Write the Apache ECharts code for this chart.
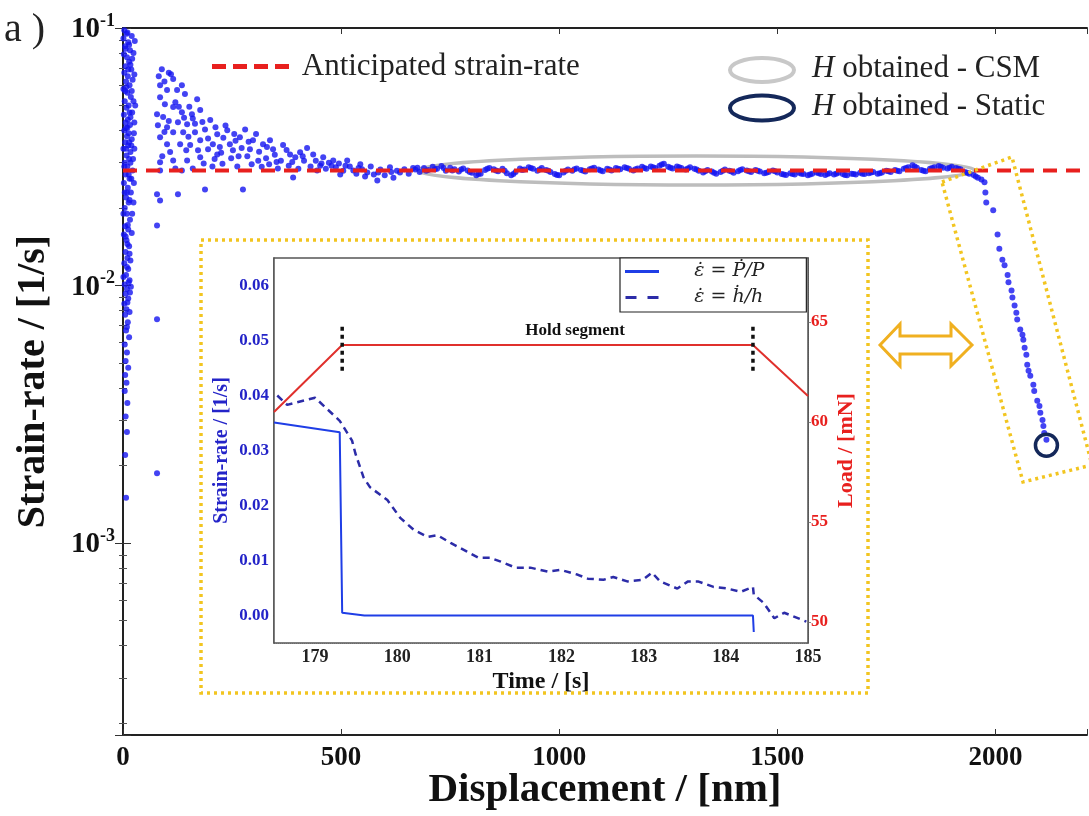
<!DOCTYPE html>
<html>
<head>
<meta charset="utf-8">
<script src="https://cdn.jsdelivr.net/npm/echarts@6/dist/echarts.min.js"></script>
<style>
  html, body { margin: 0; background: #fff; }
  #chart { width: 1089px; height: 816px; }
</style>
</head>
<body>
<div id="chart"></div>
<script>
// ---- main plot: strain-rate vs displacement (log y) ----
// [displacement nm, strain-rate 1/s]
const surfacePts = [
  [3,0.098],[8,0.095],[1,0.091],[12,0.088],[5,0.085],[16,0.082],[2,0.079],[9,0.077],[14,0.074],[6,0.071],
  [19,0.069],[3,0.067],[11,0.065],[7,0.062],[15,0.06],[1,0.058],[10,0.056],[18,0.054],[4,0.052],[13,0.05],
  [8,0.049],[21,0.047],[2,0.046],[11,0.044],[6,0.043],[16,0.042],[3,0.04],[13,0.039],[9,0.038],[20,0.037],
  [5,0.036],[12,0.035],[1,0.034],[17,0.033],[8,0.032],[14,0.031],[4,0.03],[10,0.029],[22,0.028],[6,0.027],
  [15,0.026],[2,0.025],[11,0.024],[18,0.023],[7,0.022],[13,0.021],[4,0.02],[9,0.019],[16,0.018],[5,0.017],
  [12,0.0165],[2,0.0158],[8,0.015],[14,0.0142],[6,0.0135],[10,0.0128],[3,0.0122],[12,0.0116],[7,0.011],[15,0.0105],
  [4,0.0101],[9,0.0097],[6,0.0093],[12,0.0089],[3,0.0085],[8,0.0081],[5,0.0077],[11,0.0072],[7,0.0067],[14,0.0063],
  [4,0.0059],[9,0.0055],[6,0.0051],[12,0.0048],[5,0.0045],[8,0.0042],[4,0.0039],[10,0.0035],[6,0.0031],[9,0.0027],
  [5,0.0022],[7,0.0015],
  [20,0.093],[14,0.086],[24,0.08],[17,0.072],[22,0.063],[5,0.057],[24,0.052],[15,0.047],[26,0.043],[7,0.041],
  [19,0.035],[23,0.031],[3,0.029],[19,0.026],[9,0.023],[24,0.021],[1,0.019],[20,0.016],[10,0.0145],[17,0.0125],
  [1,0.0108],[18,0.0099],
  [10,0.096],[27,0.089],[6,0.083],[21,0.076],[12,0.069],[26,0.066],[8,0.059],[20,0.057],[28,0.05],[17,0.045],
  [10,0.041],[25,0.039],[14,0.036],[7,0.034],[26,0.034],[17,0.03],[13,0.027],[25,0.025],[4,0.023],[15,0.0215],
  [21,0.019],[11,0.0172],[6,0.0155],[15,0.0133],[9,0.0118],[13,0.0103],[16,0.0094],[10,0.0086],[15,0.0079],[9,0.0069]
];
const transientPts = [
  [89,0.0692],[110,0.0662],[115,0.0634],[135,0.060],[85,0.060],[101,0.0574],[124,0.0574],[142,0.0554],[170,0.0529],[85,0.0539],
  [96,0.0506],[115,0.0493],[78,0.0463],[92,0.0451],[135,0.0471],[158,0.0463],[177,0.048],[200,0.0439],[80,0.0419],[101,0.0412],
  [126,0.0431],[147,0.0423],[115,0.0394],[138,0.0394],[165,0.0394],[188,0.0404],[216,0.0387],[239,0.0401],[280,0.0404],[268,0.0377],
  [85,0.0377],[101,0.0354],[131,0.0354],[154,0.0351],[177,0.0367],[206,0.0354],[245,0.0354],[298,0.0367],[321,0.0354],[337,0.0367],
  [367,0.0351],[252,0.0335],[291,0.0338],[344,0.0338],[383,0.0323],[406,0.0329],[436,0.0323],[459,0.0315],[482,0.0306],[514,0.0306],
  [544,0.0296],[85,0.0301],[115,0.0306],[147,0.0306],[177,0.0315],[216,0.0323],[85,0.028],[135,0.028],[188,0.0236],[275,0.0236],
  [78,0.0226],[85,0.0214],[126,0.0226],[78,0.0171],[390,0.0263],[445,0.028],[498,0.027],[583,0.0256],[560,0.0275],[528,0.028],
  [635,0.0275],[78,0.0074],[78,0.00187],
  [160,0.0445],[172,0.0335],[185,0.0298],[195,0.0372],[210,0.031],[222,0.0345],[228,0.0297],[235,0.0418],[248,0.0312],[258,0.0365],
  [262,0.029],[272,0.0342],[285,0.0318],[295,0.0296],[305,0.0388],[312,0.0331],[318,0.0289],[328,0.0312],[335,0.0296],[348,0.0322],
  [355,0.0285],[362,0.0305],[375,0.0336],[380,0.0292],[395,0.0315],[402,0.0284],[415,0.0305],[422,0.0342],[430,0.029],[442,0.0305],
  [452,0.0292],[465,0.0284],[472,0.03],[488,0.0288],[495,0.0298],[505,0.0279],[520,0.029],[535,0.0272],[548,0.0283],[555,0.0265],
  [568,0.029],[575,0.027],[590,0.0282],[600,0.0268],[612,0.0288],[620,0.0262],[628,0.0279],[645,0.0283],[655,0.0272],[665,0.0286],
  [120,0.0515],[140,0.0448],[150,0.0378],[105,0.0435],[95,0.0395],[108,0.033],[90,0.0318],[120,0.0285],[145,0.0335],[160,0.0285],
  [195,0.0338],[230,0.0375],[205,0.029],[82,0.065],[95,0.062],[105,0.067],
  [128,0.0495],[152,0.0495],[165,0.0425],[182,0.0432],[212,0.0412],[225,0.0328],[255,0.0388],[265,0.0318],[288,0.0362],[310,0.0305],
  [330,0.0345],[352,0.0302],[388,0.0302],[412,0.0318],[455,0.0298],[478,0.0292],[510,0.0292],[540,0.0286],[585,0.0275],[615,0.0276]
];
const plateauPts = [
  [670,0.0282],[680,0.0276],[690,0.0286],[700,0.0281],[710,0.0289],[720,0.0284],[730,0.0291],[740,0.0279],[750,0.0287],[760,0.0283],
  [770,0.0277],[780,0.0285],[790,0.0280],[800,0.0274],[810,0.0268],[820,0.0272],[830,0.0281],[840,0.0286],[850,0.0283],[860,0.0278],
  [870,0.0284],[880,0.0273],[890,0.0268],[900,0.0276],[910,0.0285],[920,0.0282],[930,0.0288],[940,0.0284],[950,0.0279],[960,0.0286],
  [970,0.0281],[980,0.0276],[990,0.0271],[1000,0.0268],[1010,0.0275],[1020,0.0282],[1030,0.0279],[1040,0.0285],[1050,0.0281],[1060,0.0277],
  [1070,0.0283],[1080,0.0287],[1090,0.0282],[1100,0.0278],[1110,0.0284],[1120,0.0280],[1130,0.0286],[1140,0.0283],[1150,0.0288],[1160,0.0284],
  [1170,0.0280],[1180,0.0285],[1190,0.0289],[1200,0.0284],[1210,0.0290],[1220,0.0286],[1230,0.0292],[1240,0.0297],[1250,0.0289],[1260,0.0285],
  [1270,0.0290],[1280,0.0286],[1290,0.0282],[1300,0.0288],[1310,0.0284],[1320,0.0279],[1330,0.0275],[1340,0.0281],[1350,0.0277],[1360,0.0272],
  [1370,0.0276],[1380,0.0282],[1390,0.0279],[1400,0.0274],[1410,0.0278],[1420,0.0283],[1430,0.0280],[1440,0.0276],[1450,0.0281],[1460,0.0277],
  [1470,0.0273],[1480,0.0276],[1490,0.0280],[1500,0.0275],[1510,0.0271],[1520,0.0269],[1530,0.0273],[1540,0.0270],[1550,0.0274],[1560,0.0271],
  [1570,0.0268],[1580,0.0272],[1590,0.0275],[1600,0.0271],[1610,0.0269],[1620,0.0273],[1630,0.0270],[1640,0.0274],[1650,0.0271],[1660,0.0268],
  [1670,0.0272],[1680,0.0270],[1690,0.0274],[1700,0.0271],[1710,0.0273],[1720,0.0276],[1730,0.0272],[1740,0.0275],[1750,0.0279],[1760,0.0276],
  [1770,0.0281],[1780,0.0278],[1790,0.0284],[1800,0.0288],[1810,0.0293],[1820,0.0287],[1830,0.0281],[1840,0.0278],[1850,0.0284],[1860,0.0288],
  [1870,0.0291],[1880,0.0287],[1890,0.0285],[1900,0.0289],[1910,0.0286],[1920,0.0283],[1930,0.0276],[1940,0.0272],[1950,0.0269],[1960,0.0262],
  [675,0.0287],[695,0.0279],[715,0.0283],[735,0.0286],[755,0.0280],[775,0.0282],[795,0.0276],[815,0.0271],[835,0.0284],[855,0.0280],
  [875,0.0279],[895,0.0271],[915,0.0281],[935,0.0286],[955,0.0282],[975,0.0279],[995,0.0269],[1015,0.0279],[1035,0.0283],[1055,0.0279],
  [1075,0.0285],[1095,0.0280],[1115,0.0282],[1135,0.0284],[1155,0.0286],[1175,0.0283],[1195,0.0286],[1215,0.0288],[1235,0.0295],[1255,0.0287],
  [1275,0.0288],[1295,0.0285],[1315,0.0282],[1335,0.0278],[1355,0.0274],[1375,0.0279],[1395,0.0277],[1415,0.0281],[1435,0.0278],[1455,0.0279],
  [1475,0.0274],[1495,0.0278],[1515,0.0270],[1535,0.0271],[1555,0.0272],[1575,0.0270],[1595,0.0273],[1615,0.0271],[1635,0.0272],[1655,0.0269],
  [1675,0.0271],[1695,0.0272],[1715,0.0275],[1735,0.0273],[1755,0.0278],[1775,0.0279],[1795,0.0286],[1815,0.0290],[1835,0.0279],[1855,0.0286],
  [1875,0.0289],[1895,0.0287],[1915,0.0284],[1935,0.0274],[1955,0.0265]
];
const unloadPts = [
  [1968,0.0258],[1975,0.0252],[1977,0.0230],[1979,0.0210],[1995,0.0196],[2005,0.0158],[2009,0.0139],[2016,0.0126],[2021,0.0120],[2028,0.0110],
  [2030,0.0103],[2037,0.00957],[2039,0.00898],[2044,0.00836],[2048,0.00785],[2050,0.00738],[2057,0.00675],[2062,0.00645],[2064,0.00616],[2067,0.00574],
  [2071,0.00539],[2073,0.00493],[2076,0.00467],[2080,0.00447],[2087,0.00412],[2089,0.00390],[2096,0.00357],[2101,0.00341],[2103,0.00321],[2108,0.00301],
  [2110,0.00285],[2112,0.00268],[2117,0.00252]
];
const anticipatedRate = 0.028;
const anticipatedDisp = [0, 2210];
const csmRange = [676, 1954];          // grey ellipse span (nm)
const staticPoint = [2117, 0.0024];    // navy circle
const dispTicks = [0, 500, 1000, 1500, 2000];

// ---- inset: strain-rate / load vs time during hold ----
const loadTime = [178.5, 179.33, 184.33, 185];
const loadMN = [60.5, 63.85, 63.85, 61.3];
const pTime = [178.5, 179.3, 179.33, 179.6, 184.33, 184.34];
const pRate = [0.0351, 0.0333, 0.0005, 0.0, 0.0, -0.003];
const hTime = [178.54, 178.66, 179.0, 179.3, 179.45, 179.49, 179.59, 179.67, 179.88, 180.04, 180.2, 180.37, 180.49, 180.65,
  180.85, 180.99, 181.13, 181.26, 181.44, 181.62, 181.83, 181.99, 182.2, 182.32, 182.51, 182.63, 182.8, 182.99, 183.1,
  183.2, 183.41, 183.54, 183.66, 183.85, 184.02, 184.18, 184.33, 184.34, 184.46, 184.59, 184.71, 184.98];
const hRate = [0.040, 0.0383, 0.0396, 0.0354, 0.0318, 0.0295, 0.0251, 0.0233, 0.0210, 0.0177, 0.0156, 0.0143, 0.0146, 0.0132,
  0.0116, 0.0105, 0.0105, 0.0098, 0.0087, 0.0087, 0.0080, 0.0083, 0.0074, 0.0067, 0.0065, 0.0070, 0.0062, 0.0065, 0.0078,
  0.0062, 0.0049, 0.0062, 0.0062, 0.0052, 0.0049, 0.0043, 0.0052, 0.0038, 0.0023, -0.0005, 0.0005, -0.0011];
const holdMarks = [179.33, 184.33];
const holdMarkSpan = [0.0445, 0.0532];

const SERIF = "'Liberation Serif', 'DejaVu Serif', serif";
const BLUE = '#1414f0';
const RED = '#e8201e';
const GOLD = '#f2c520';
const P_NAME = 'ε̇ = Ṗ/P';
const H_NAME = 'ε̇ = ḣ/h';

const chart = echarts.init(document.getElementById('chart'));

const mainGrid = { left: 123, top: 28, width: 964, height: 707 };
const insetGrid = { left: 274, top: 258, width: 534, height: 385 };

const zip = (xs, ys) => xs.map((x, i) => [x, ys[i]]);

function logLabel(v) {
  const e = Math.log10(v);
  const r = Math.round(e);
  if (Math.abs(e - r) > 1e-6) return '';
  return '{b|10}{s|' + r + '}';
}

const option = {
  animation: false,
  backgroundColor: '#fff',
  grid: [
    { ...mainGrid, show: false, outerBoundsMode: 'none', containLabel: false },
    { ...insetGrid, show: true, backgroundColor: '#fff', borderColor: '#555', borderWidth: 1.5, z: 3,
      outerBoundsMode: 'none', containLabel: false }
  ],
  legend: [
    {
      data: [{ name: 'Anticipated strain-rate', icon: 'path://M0,0h14v5h-14z M21,0h14v5h-14z M42,0h14v5h-14z M63,0h14v5h-14z' }],
      left: 207, top: 46,
      itemWidth: 77, itemHeight: 5,
      formatter: n => ' ' + n,
      textStyle: { fontFamily: SERIF, fontSize: 31, color: '#222' }
    },
    {
      data: [
        { name: P_NAME, icon: 'path://M0,0h34v3h-34z' },
        { name: H_NAME, icon: 'path://M0,0h11v3h-11z M22,0h11v3h-11z' }
      ],
      orient: 'vertical',
      left: 620, top: 258,
      itemWidth: 34, itemHeight: 3, itemGap: 7,
      padding: [4, 42, 5, 5],
      borderColor: '#222', borderWidth: 1.2,
      backgroundColor: '#fff',
      formatter: n => '     ' + n,
      textStyle: { fontFamily: "'DejaVu Serif', serif", fontStyle: 'italic', fontSize: 19, color: '#222' },
      z: 10
    }
  ],
  xAxis: [
    {
      gridIndex: 0, type: 'value', position: 'bottom', min: 0, max: anticipatedDisp[1], interval: 500,
      name: 'Displacement / [nm]', nameLocation: 'middle', nameGap: 35, nameMoveOverlap: false,
      nameTextStyle: { fontFamily: SERIF, fontWeight: 'bold', fontSize: 41, color: '#111' },
      axisLine: { lineStyle: { color: '#222', width: 2 } },
      axisTick: { inside: true, length: 6, lineStyle: { color: '#333' } },
      axisLabel: {
        margin: 10, fontFamily: SERIF, fontWeight: 'bold', fontSize: 27, color: '#111',
        formatter: v => (dispTicks.includes(v) ? String(v) : '')
      },
      splitLine: { show: false }
    },
    {
      gridIndex: 0, type: 'value', position: 'top', min: 0, max: anticipatedDisp[1], interval: 500,
      axisLine: { lineStyle: { color: '#222', width: 2 } },
      axisTick: { inside: true, length: 6, lineStyle: { color: '#333' } },
      axisLabel: { show: false }, splitLine: { show: false }
    },
    {
      gridIndex: 1, type: 'value', position: 'bottom', min: 178.5, max: 185, splitNumber: 6,
      name: 'Time / [s]', nameLocation: 'middle', nameGap: 27,
      nameTextStyle: { fontFamily: SERIF, fontWeight: 'bold', fontSize: 24, color: '#111' },
      axisLine: { lineStyle: { color: '#444', width: 1.5 } },
      axisTick: { show: false },
      axisLabel: { showMinLabel: false, margin: 5, fontFamily: SERIF, fontWeight: 'bold', fontSize: 18, color: '#222' },
      splitLine: { show: true, lineStyle: { color: '#aaa', type: 'dotted', width: 1 } }
    }
  ],
  yAxis: [
    {
      gridIndex: 0, type: 'log', logBase: 10, position: 'left', min: 1.8e-4, max: 0.1,
      name: 'Strain-rate / [1/s]', nameLocation: 'middle', nameGap: 69, nameRotate: 90,
      nameTextStyle: { fontFamily: SERIF, fontWeight: 'bold', fontSize: 40, color: '#111' },
      axisLine: { show: true, lineStyle: { color: '#222', width: 2 } },
      axisTick: { inside: true, length: 8, lineStyle: { color: '#333' } },
      minorTick: { show: true, splitNumber: 9, length: 4, lineStyle: { color: '#555' } },
      axisLabel: {
        margin: 8, formatter: logLabel,
        rich: {
          b: { fontFamily: SERIF, fontWeight: 'bold', fontSize: 29, color: '#111', lineHeight: 32, verticalAlign: 'bottom' },
          s: { fontFamily: SERIF, fontWeight: 'bold', fontSize: 18, color: '#111', lineHeight: 18, verticalAlign: 'top' }
        }
      },
      splitLine: { show: false }
    },
    {
      gridIndex: 0, type: 'log', logBase: 10, position: 'right', min: 1.8e-4, max: 0.1,
      axisLine: { show: true, lineStyle: { color: '#222', width: 2 } },
      axisTick: { inside: true, length: 8, lineStyle: { color: '#333' } },
      minorTick: { show: true, splitNumber: 9, length: 4, lineStyle: { color: '#555' } },
      axisLabel: { show: false }, splitLine: { show: false }
    },
    {
      gridIndex: 1, type: 'value', position: 'left', min: -0.005, max: 0.065, splitNumber: 7,
      name: 'Strain-rate / [1/s]', nameLocation: 'middle', nameGap: 42, nameRotate: 90,
      nameTextStyle: { fontFamily: SERIF, fontWeight: 'bold', fontSize: 20, color: '#2424c8' },
      axisLine: { show: true, lineStyle: { color: '#444', width: 1.5 } },
      axisTick: { show: false },
      axisLabel: {
        showMinLabel: false, showMaxLabel: false, margin: 5,
        fontFamily: SERIF, fontWeight: 'bold', fontSize: 17, color: '#2424c8',
        formatter: v => v.toFixed(2)
      },
      splitLine: { show: true, lineStyle: { color: '#aaa', type: 'dotted', width: 1 } }
    },
    {
      gridIndex: 1, type: 'value', position: 'right', min: 48.95, max: 68.2, splitNumber: 4,
      name: 'Load / [mN]', nameLocation: 'middle', nameGap: 27, nameRotate: 90,
      nameTextStyle: { fontFamily: SERIF, fontWeight: 'bold', fontSize: 22, color: RED },
      axisLine: { show: true, lineStyle: { color: '#444', width: 1.5 } },
      axisTick: { show: true, length: 3, lineStyle: { color: '#888' } },
      axisLabel: {
        showMinLabel: false, showMaxLabel: false, margin: 3,
        fontFamily: SERIF, fontWeight: 'bold', fontSize: 17, color: RED
      },
      splitLine: { show: false }
    }
  ],
  series: [
    {
      name: 'Strain-rate', type: 'scatter', xAxisIndex: 0, yAxisIndex: 0,
      data: surfacePts.concat(transientPts, plateauPts, unloadPts),
      symbolSize: 6, itemStyle: { color: BLUE }, z: 2
    },
    {
      name: 'Anticipated strain-rate', type: 'line', xAxisIndex: 0, yAxisIndex: 0,
      data: anticipatedDisp.map(x => [x, anticipatedRate]),
      symbol: 'none', lineStyle: { color: RED, width: 4, type: [14, 9] }, itemStyle: { color: RED }, z: 3
    },
    {
      name: 'Load', type: 'line', xAxisIndex: 2, yAxisIndex: 3,
      data: zip(loadTime, loadMN), symbol: 'none',
      lineStyle: { color: '#e0302c', width: 2 }, z: 5
    },
    {
      name: P_NAME, type: 'line', xAxisIndex: 2, yAxisIndex: 2,
      data: zip(pTime, pRate), symbol: 'none',
      lineStyle: { color: '#1f3ee6', width: 2 }, itemStyle: { color: '#1f3ee6' }, z: 5
    },
    {
      name: H_NAME, type: 'line', xAxisIndex: 2, yAxisIndex: 2,
      data: zip(hTime, hRate), symbol: 'none',
      lineStyle: { color: '#2c2ca8', width: 2.5, type: [7, 5] }, itemStyle: { color: '#2c2ca8' }, z: 5
    },
    ...holdMarks.map(t => ({
      name: 'hold', type: 'line', xAxisIndex: 2, yAxisIndex: 2,
      data: holdMarkSpan.map(v => [t, v]), symbol: 'none',
      lineStyle: { color: '#111', width: 3.5, type: [4, 4] }, z: 6
    }))
  ]
};

chart.setOption(option);

const px = (x, y) => chart.convertToPixel({ xAxisIndex: 0, yAxisIndex: 0 }, [x, y]);
const csmL = px(csmRange[0], anticipatedRate);
const csmR = px(csmRange[1], anticipatedRate);
const st = px(staticPoint[0], staticPoint[1]);
const dotted = { stroke: GOLD, lineWidth: 3.5, lineDash: [3, 4], fill: null };
const legendText = t => ({
  text: '{i|H} ' + t, verticalAlign: 'middle', font: '31px ' + SERIF, fill: '#222',
  rich: { i: { fontFamily: SERIF, fontStyle: 'italic', fontSize: 31, fill: '#222' } }
});

chart.setOption({
  graphic: [
    { type: 'text', left: 4, top: 10, style: { text: 'a )', font: '40px ' + SERIF, fill: '#222' } },
    { type: 'ellipse', shape: { cx: (csmL[0] + csmR[0]) / 2, cy: csmL[1], rx: (csmR[0] - csmL[0]) / 2, ry: 14.5 },
      style: { stroke: '#bdbdbd', lineWidth: 3.5, fill: null }, z: 1 },
    { type: 'circle', shape: { cx: st[0], cy: st[1], r: 11 }, style: { stroke: '#14285a', lineWidth: 3.5, fill: null }, z: 10 },
    { type: 'polygon', shape: { points: [[942, 182], [1012, 157], [1092, 465], [1023, 482]] }, style: dotted, z: 10 },
    { type: 'rect', shape: { x: 201, y: 240, width: 667, height: 453 }, style: dotted, z: 10 },
    { type: 'polygon', shape: { points: [[880, 345], [900, 324], [900, 336], [951, 336], [951, 324], [972, 345], [951, 366], [951, 354], [900, 354], [900, 366]] },
      style: { stroke: '#f0b020', lineWidth: 3, fill: '#fff' }, z: 10 },
    // legend for the ellipses
    { type: 'ellipse', shape: { cx: 762, cy: 70, rx: 32, ry: 12 }, style: { stroke: '#c8c8c8', lineWidth: 4, fill: null } },
    { type: 'ellipse', shape: { cx: 762, cy: 108, rx: 32, ry: 12.5 }, style: { stroke: '#14285a', lineWidth: 4, fill: null } },
    { type: 'text', x: 812, y: 69, style: legendText('obtained - CSM') },
    { type: 'text', x: 812, y: 107, style: legendText('obtained - Static') },
    { type: 'text', x: 575, y: 331, style: { text: 'Hold segment', align: 'center', verticalAlign: 'middle',
        font: 'bold 17px ' + SERIF, fill: '#111' }, z: 10 }
  ]
});
</script>
</body>
</html>
